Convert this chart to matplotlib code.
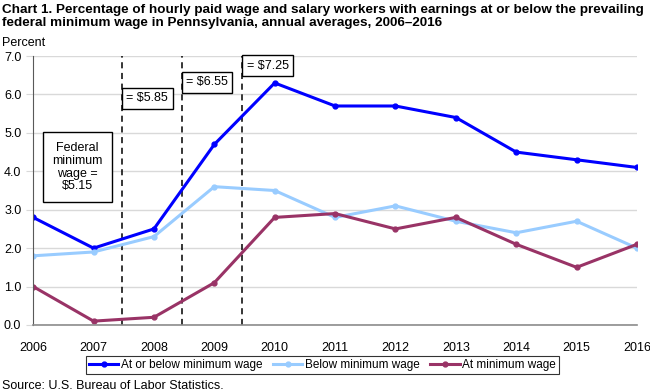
import matplotlib
matplotlib.use("Agg")
import matplotlib.pyplot as plt

plt.rcParams["font.family"] = ["Liberation Sans", "DejaVu Sans"]

years = list(range(2006, 2017))
at_or_below = [2.8, 2.0, 2.5, 4.7, 6.3, 5.7, 5.7, 5.4, 4.5, 4.3, 4.1]
below = [1.8, 1.9, 2.3, 3.6, 3.5, 2.8, 3.1, 2.7, 2.4, 2.7, 2.0]
at_min = [1.0, 0.1, 0.2, 1.1, 2.8, 2.9, 2.5, 2.8, 2.1, 1.5, 2.1]

wage_change_x = [2007.47, 2008.46, 2009.46]
wage_labels = ["= $5.85", "= $6.55", "= $7.25"]
wage_label_y = [6.06, 6.47, 6.91]

series = [
    ("At or below minimum wage", at_or_below, "#0000FF"),
    ("Below minimum wage", below, "#99CCFF"),
    ("At minimum wage", at_min, "#993366"),
]

fig = plt.figure(figsize=(6.5, 3.92), dpi=100)
ax = fig.add_axes([0.051, 0.171, 0.929, 0.686])

for label, vals, color in series:
    ax.plot(years, vals, color=color, linewidth=2.2, marker="o", markersize=3.5, label=label)

for x in wage_change_x:
    ax.axvline(x, color="black", linestyle=(0, (4, 3)), linewidth=1.1, zorder=1)

box = dict(boxstyle="square,pad=0.35", facecolor="white", edgecolor="black", linewidth=1.0)
for x, txt, y in zip(wage_change_x, wage_labels, wage_label_y):
    ax.text(x + 0.075, y, txt, fontsize=9, ha="left", va="top", bbox=box, zorder=5)

ax.text(2006.73, 4.11, "Federal\nminimum\nwage =\n$5.15", fontsize=9, ha="center", va="center",
        bbox=dict(boxstyle="square,pad=0.75", facecolor="white", edgecolor="black", linewidth=1.0),
        linespacing=1.1, zorder=5)

ax.set_xlim(2006, 2016)
ax.set_ylim(0, 7)
ax.set_xticks(years)
ax.set_yticks([i for i in range(8)])
ax.set_yticklabels([f"{i:.1f}" for i in range(8)])
ax.yaxis.grid(True, color="#D9D9D9", linewidth=1.0)
ax.set_axisbelow(True)
ax.tick_params(axis="y", length=5, color="#D9D9D9", labelsize=9)
ax.tick_params(axis="x", length=0, labelsize=9, pad=12)
for s in ["top", "right"]:
    ax.spines[s].set_visible(False)
ax.spines["left"].set_color("#595959")
ax.spines["bottom"].set_color("#8C8C8C")
ax.spines["bottom"].set_linewidth(1.2)

fig.text(0.003, 0.99, "Chart 1. Percentage of hourly paid wage and salary workers with earnings at or below the prevailing\n"
         "federal minimum wage in Pennsylvania, annual averages, 2006\u20132016",
         fontsize=9.7, fontweight="bold", ha="left", va="top", linespacing=1.1)
fig.text(0.003, 0.89, "Percent", fontsize=9, ha="left", va="center")
fig.text(0.003, 0.0, "Source: U.S. Bureau of Labor Statistics.", fontsize=9, ha="left", va="bottom")

leg = fig.legend(loc="center", bbox_to_anchor=(0.496, 0.068), ncol=3, frameon=True, fancybox=False,
                 edgecolor="black", fontsize=8.5, handlelength=2.5, columnspacing=0.9, handletextpad=0.2,
                 borderpad=0.25)
leg.get_frame().set_linewidth(0.8)

fig.savefig("out.png", dpi=100)
